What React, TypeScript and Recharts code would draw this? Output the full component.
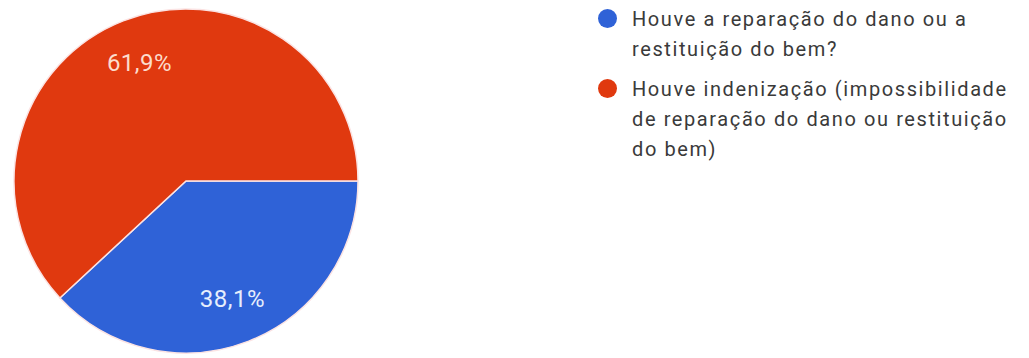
import { Cell, Pie, PieChart } from "recharts";

const categories = [
  "Houve a reparação do dano ou a restituição do bem?",
  "Houve indenização (impossibilidade de reparação do dano ou restituição do bem)",
];
const shares = [38.1, 61.9];
const colors = ["#2f62d7", "#e0390f"];
const labelColors = ["#e6eefc", "#fcdccc"];

const data = categories.map((name, i) => ({ name, value: shares[i] }));

const RADIAN = Math.PI / 180;
const FONT = "Roboto, Arial, sans-serif";

function SliceLabel(props: any) {
  const { cx, cy, midAngle, outerRadius, value, index } = props;
  const r = outerRadius * 0.74;
  const x = cx + r * Math.cos(-midAngle * RADIAN);
  const y = cy + r * Math.sin(-midAngle * RADIAN);
  return (
    <text
      x={x}
      y={y}
      fill={labelColors[index]}
      textAnchor="middle"
      dominantBaseline="central"
      style={{ fontFamily: FONT, fontSize: 24, letterSpacing: 0.5 }}
    >
      {value.toFixed(1).replace(".", ",")}%
    </text>
  );
}

// legend drawn beside the pie, same arrays as the slices
function LegendList() {
  return (
    <div
      style={{
        position: "absolute",
        left: 598,
        top: 4,
        fontFamily: FONT,
        fontSize: 20,
        lineHeight: "30px",
        color: "#3a3a3a",
        letterSpacing: 1.6,
      }}
    >
      {data.map((d, i) => (
        <div key={d.name} style={{ display: "flex", alignItems: "flex-start", marginBottom: 10 }}>
          <span
            style={{
              width: 19,
              height: 19,
              borderRadius: "50%",
              background: colors[i],
              marginTop: 4.5,
              marginRight: 15,
              flex: "none",
            }}
          />
          <span style={{ width: 398 }}>{d.name}</span>
        </div>
      ))}
    </div>
  );
}

export default function App() {
  return (
    <div style={{ position: "fixed", left: 0, top: 0, width: 1029, height: 358, background: "#fff", overflow: "hidden" }}>
      <PieChart width={1029} height={358} margin={{ top: 0, right: 0, bottom: 0, left: 0 }}>
        <Pie
          data={data}
          dataKey="value"
          nameKey="name"
          cx={186}
          cy={181}
          outerRadius={172}
          startAngle={0}
          endAngle={-360}
          stroke="#fbe3e3"
          strokeWidth={1.5}
          label={SliceLabel}
          labelLine={false}
          isAnimationActive={false}
        >
          {data.map((d, i) => (
            <Cell key={d.name} fill={colors[i]} />
          ))}
        </Pie>
      </PieChart>
      <LegendList />
    </div>
  );
}
